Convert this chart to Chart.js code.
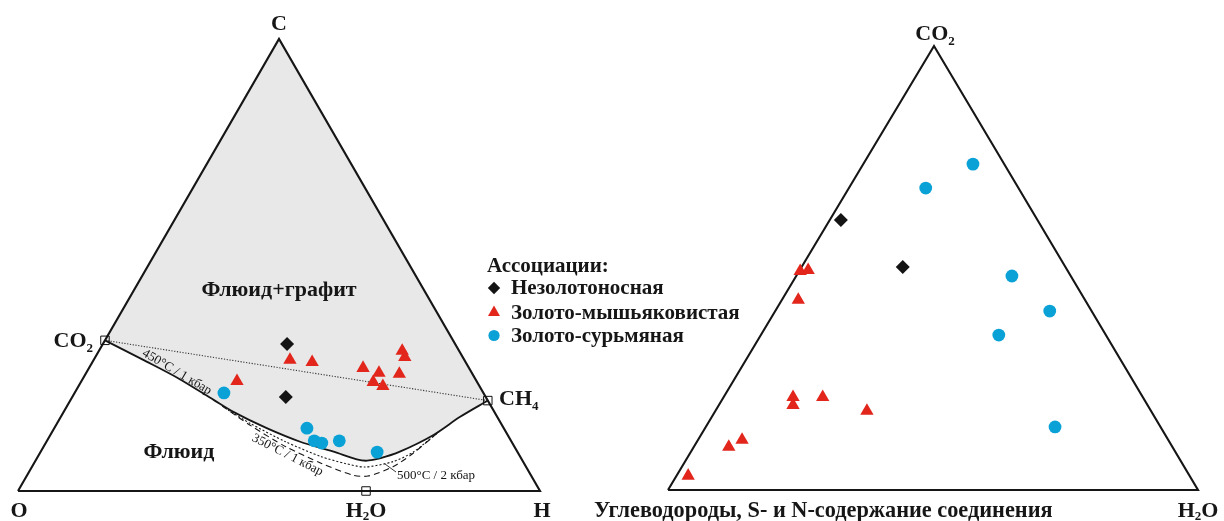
<!DOCTYPE html>
<html lang="ru">
<head>
<meta charset="utf-8">
<title>Ассоциации: C–O–H и CO2–H2O–углеводороды</title>
<script src="https://cdn.jsdelivr.net/npm/chart.js@4.4.1/dist/chart.umd.min.js"></script>
<style>
  html, body { margin: 0; padding: 0; background: #fff; overflow: hidden; }
  #wrap { position: relative; width: 1224px; height: 521px; }
</style>
</head>
<body>
<div id="wrap"><canvas id="chart"></canvas></div>
<script>
// ---------- C–O–H diagram: atomic fractions, %; O = 100 − C − H ----------
const cohBarrenC = [32.5, 20.8];
const cohBarrenH = [35.3, 40.9];
const cohAuAsC = [29.0, 28.5, 24.3, 27.2, 26.1, 24.1, 23.2, 25.9, 31.0, 29.6];
const cohAuAsH = [37.6, 42.1, 29.8, 52.5, 56.1, 56.0, 58.3, 60.1, 58.1, 59.3];
const cohAuSbC = [21.7, 13.9, 11.1, 10.6, 11.1, 8.6];
const cohAuSbH = [28.6, 48.4, 51.2, 52.9, 56.0, 64.5];

// reference compositions CO2, CH4, H2O
const cohRefNames = ['CO2', 'CH4', 'H2O'];
const cohRefC = [33.33, 20.0, 0.0];
const cohRefH = [0.0, 80.0, 66.67];

// graphite saturation surface, 450 °C / 1 kbar (CO2 → CH4)
const sat450C = [33.33, 29.0, 24.9, 20.1, 17.5, 13.9, 10.9, 8.7, 7.0, 6.7, 7.2, 8.7, 12.4, 16.4, 20.0];
const sat450H = [0.0, 9.5, 18.3, 27.5, 32.5, 40.7, 48.6, 56.1, 61.4, 63.5, 65.7, 68.8, 73.4, 76.5, 80.0];
// 500 °C / 2 kbar
const sat500C = [17.9, 15.0, 10.9, 7.6, 6.1, 5.3, 6.5, 8.6, 13.3];
const sat500H = [31.3, 36.9, 45.8, 54.3, 59.6, 63.8, 68.6, 71.4, 74.2];
// 350 °C / 1 kbar
const sat350C = [18.8, 14.6, 9.8, 6.1, 3.5, 3.3, 5.4, 8.3, 13.3];
const sat350H = [29.7, 37.1, 46.4, 55.1, 62.4, 65.4, 69.2, 71.5, 74.2];

// ---------- CO2 – H2O – hydrocarbons diagram, %; HC = 100 − CO2 − H2O ----------
const gasBarrenCO2 = [60.8, 50.2];
const gasBarrenH2O = [2.1, 19.1];
const gasAuAsCO2 = [49.3, 49.5, 42.8, 20.9, 19.1, 20.9, 17.8, 11.3, 9.7, 3.2];
const gasAuAsH2O = [0.2, 1.6, 3.1, 13.1, 14.0, 18.7, 28.6, 8.3, 6.6, 2.2];
const gasAuSbCO2 = [73.4, 68.0, 48.2, 40.3, 34.9, 14.2];
const gasAuSbH2O = [20.7, 14.5, 40.7, 51.8, 44.9, 65.9];

const seriesNames = ['Незолотоносная', 'Золото-мышьяковистая', 'Золото-сурьмяная'];

// ---------- drawing frame (page units, y downwards) ----------
const PAGE_W = 1224, PAGE_H = 521;
const LEFT = { x0: 18, y0: 491, side: 522 };               // O corner and side length
const RIGHT = { lx: 668, rx: 1198, base: 490, tx: 934, ty: 46 };
const SIN60 = Math.sqrt(3) / 2;

const COLORS = { barren: '#141414', auAs: '#e2261c', auSb: '#0aa2d6', edge: '#161616', fill: '#e8e8e8' };
const SERIF = '"Liberation Serif", "Times New Roman", "DejaVu Serif", serif';

// ternary C–O–H → plane
function coh(c, h) {
  const C = c / 100, H = h / 100;
  return { x: LEFT.x0 + LEFT.side * (H + C / 2), y: LEFT.y0 - LEFT.side * SIN60 * C };
}
// ternary CO2–H2O–HC → plane
function gas(co2, h2o) {
  const t = co2 / 100, r = h2o / 100;
  return {
    x: RIGHT.lx + (RIGHT.rx - RIGHT.lx) * r + (RIGHT.tx - RIGHT.lx) * t,
    y: RIGHT.base - (RIGHT.base - RIGHT.ty) * t
  };
}
const cohPts = (C, H) => C.map((c, i) => coh(c, H[i]));
const gasPts = (A, B) => A.map((a, i) => gas(a, B[i]));

// marker styles per association
const styleBarren = { pointStyle: 'rectRot', pointRadius: 7, backgroundColor: COLORS.barren };
const styleAuAs = { pointStyle: 'triangle', pointRadius: 7.7, backgroundColor: COLORS.auAs };
const styleAuSb = { pointStyle: 'circle', pointRadius: 6.4, backgroundColor: COLORS.auSb };

function scatterSet(label, data, style) {
  return Object.assign({
    label, data, showLine: false, borderWidth: 0, borderColor: style.backgroundColor,
    pointBorderWidth: 0, clip: false
  }, style);
}
function lineSet(label, data, opts) {
  return Object.assign({
    label, data, showLine: true, pointRadius: 0, fill: false, borderColor: COLORS.edge,
    borderWidth: 1.8, tension: 0, clip: false
  }, opts);
}

// graphite field: apex C → CO2 → saturation curve → CH4 → C
const graphiteField = [coh(100, 0)].concat(cohPts(sat450C, sat450H), [coh(100, 0)]);

const datasets = [
  scatterSet(seriesNames[0], cohPts(cohBarrenC, cohBarrenH), styleBarren),
  scatterSet(seriesNames[1], cohPts(cohAuAsC, cohAuAsH), styleAuAs),
  scatterSet(seriesNames[2], cohPts(cohAuSbC, cohAuSbH), styleAuSb),
  scatterSet(seriesNames[0] + ' ', gasPts(gasBarrenCO2, gasBarrenH2O), styleBarren),
  scatterSet(seriesNames[1] + ' ', gasPts(gasAuAsCO2, gasAuAsH2O), styleAuAs),
  scatterSet(seriesNames[2] + ' ', gasPts(gasAuSbCO2, gasAuSbH2O), styleAuSb),
  {
    label: 'ref', data: cohPts(cohRefC, cohRefH), showLine: false, pointStyle: 'rect',
    pointRadius: 6, pointBorderWidth: 1, borderColor: '#111', backgroundColor: 'rgba(0,0,0,0)', clip: false
  },
  lineSet('450°C / 1 кбар', cohPts(sat450C, sat450H), { tension: 0.3, borderWidth: 1.8 }),
  lineSet('500°C / 2 кбар', cohPts(sat500C, sat500H), { tension: 0.25, borderWidth: 1.1, borderDash: [2, 2] }),
  lineSet('350°C / 1 кбар', cohPts(sat350C, sat350H), { tension: 0.25, borderWidth: 1.1, borderDash: [6, 4] }),
  lineSet('CO2–CH4', [coh(cohRefC[0], cohRefH[0]), coh(cohRefC[1], cohRefH[1])],
          { borderWidth: 1.1, borderDash: [1.2, 1.6], borderColor: '#333' }),
  lineSet('C–O–H', [coh(0, 0), coh(0, 100), coh(100, 0), coh(0, 0)], { borderWidth: 2.1 }),
  lineSet('CO2–H2O–HC', [gas(0, 0), gas(0, 100), gas(100, 0), gas(0, 0)], { borderWidth: 2.1 }),
  lineSet('Флюид+графит', graphiteField, { borderWidth: 0, borderColor: 'rgba(0,0,0,0)', fill: 'shape', backgroundColor: COLORS.fill })
];

// text with subscripts: parts = [[text, isSub], ...]
function drawRich(ctx, x, y, parts, size, align, weight, subDrop) {
  const mainFont = `${weight} ${size}px ${SERIF}`;
  const subFont = `${weight} ${Math.round(size * 0.6)}px ${SERIF}`;
  const drop = subDrop === undefined ? size * 0.22 : subDrop;
  let w = 0;
  parts.forEach(([t, s]) => { ctx.font = s ? subFont : mainFont; w += ctx.measureText(t).width; });
  let cx = align === 'center' ? x - w / 2 : align === 'right' ? x - w : x;
  ctx.textAlign = 'left';
  ctx.textBaseline = 'alphabetic';
  parts.forEach(([t, s]) => {
    ctx.font = s ? subFont : mainFont;
    ctx.fillText(t, cx, s ? y + drop : y);
    cx += ctx.measureText(t).width;
  });
}

const labels = [
  { x: 279, y: 30, parts: [['C']], size: 22, align: 'center' },
  { x: 93, y: 347, parts: [['CO'], ['2', 1]], size: 22, align: 'right' },
  { x: 499, y: 405, parts: [['CH'], ['4', 1]], size: 22, align: 'left' },
  { x: 19, y: 517, parts: [['O']], size: 22, align: 'center' },
  { x: 366, y: 517, parts: [['H'], ['2', 1], ['O']], size: 22, align: 'center', drop: 2.5 },
  { x: 542, y: 517, parts: [['H']], size: 22, align: 'center' },
  { x: 279, y: 296, parts: [['Флюид+графит']], size: 22, align: 'center' },
  { x: 179, y: 458, parts: [['Флюид']], size: 22, align: 'center' },
  { x: 935, y: 40, parts: [['CO'], ['2', 1]], size: 22, align: 'center' },
  { x: 594, y: 517, parts: [['Углеводороды, S- и N-содержание соединения']], size: 22.3, align: 'left' },
  { x: 1198, y: 517, parts: [['H'], ['2', 1], ['O']], size: 22, align: 'center', drop: 2.5 }
];
const curveNotes = [
  { text: '450°C / 1 кбар', x: 177, y: 372, angle: 30.5 },
  { text: '350°C / 1 кбар', x: 287.5, y: 455, angle: 27 },
  { text: '500°C / 2 кбар', x: 436, y: 476, angle: 0 }
];
const legendTitle = 'Ассоциации:';
const legendPos = { x: 487, titleY: 272, markX: 494, textX: 511, rowsY: [294, 318.5, 341.5] };

const annotate = {
  id: 'annotate',
  afterDatasetsDraw(chart) {
    const { ctx } = chart;
    const sx = chart.scales.x, sy = chart.scales.y;
    const P = (x, y) => [sx.getPixelForValue(x), sy.getPixelForValue(y)];
    ctx.save();
    ctx.fillStyle = '#161616';
    labels.forEach(l => {
      const [x, y] = P(l.x, l.y);
      drawRich(ctx, x, y, l.parts, l.size, l.align, 'bold', l.drop);
    });
    // isotherm notes
    curveNotes.forEach(n => {
      const [x, y] = P(n.x, n.y);
      ctx.save();
      ctx.translate(x, y);
      ctx.rotate(n.angle * Math.PI / 180);
      ctx.font = `13px ${SERIF}`;
      ctx.textAlign = 'center';
      ctx.textBaseline = 'middle';
      ctx.fillText(n.text, 0, 0);
      ctx.restore();
    });
    // leader to the 500 °C curve
    const [ax, ay] = P(385, 464), [bx, by] = P(396, 472);
    ctx.strokeStyle = '#222'; ctx.lineWidth = 0.9;
    ctx.beginPath(); ctx.moveTo(ax, ay); ctx.lineTo(bx, by); ctx.stroke();

    // legend built from the association datasets
    const [tx, ty] = P(legendPos.x, legendPos.titleY);
    ctx.font = `bold 21px ${SERIF}`;
    ctx.textAlign = 'left'; ctx.textBaseline = 'alphabetic';
    ctx.fillText(legendTitle, tx, ty);
    for (let i = 0; i < 3; i++) {
      const ds = chart.data.datasets[i];
      const [mx, my] = P(legendPos.markX, legendPos.rowsY[i] - 6);
      ctx.fillStyle = ds.backgroundColor;
      Chart.helpers.drawPoint(ctx, { pointStyle: ds.pointStyle, radius: ds.pointRadius - 0.8, rotation: 0, borderWidth: 0 }, mx, my);
      ctx.fillStyle = '#161616';
      const [lx, ly] = P(legendPos.textX, legendPos.rowsY[i]);
      ctx.font = `bold 21px ${SERIF}`;
      ctx.fillText(ds.label, lx, ly);
    }
    ctx.restore();
  }
};

new Chart(document.getElementById('chart'), {
  type: 'scatter',
  data: { datasets },
  options: {
    responsive: true,
    maintainAspectRatio: false,
    animation: false,
    events: [],
    layout: { padding: 0, autoPadding: false },
    plugins: { legend: { display: false }, tooltip: { enabled: false } },
    scales: {
      x: { type: 'linear', min: 0, max: PAGE_W, display: false },
      y: { type: 'linear', min: 0, max: PAGE_H, reverse: true, display: false }
    }
  },
  plugins: [annotate]
});
</script>
</body>
</html>
